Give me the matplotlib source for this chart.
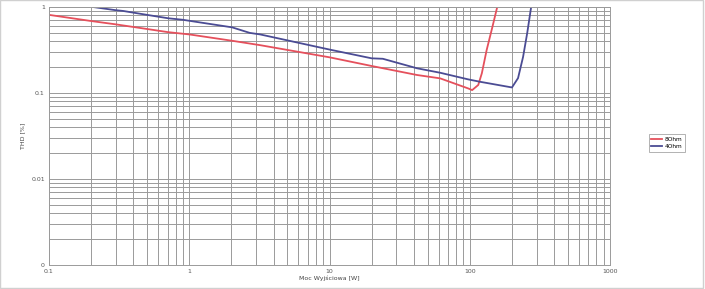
import numpy as np
import matplotlib
matplotlib.use('Agg')
import matplotlib.pyplot as plt
from matplotlib.patches import Rectangle

# odczyt z wykresu: moc [W] / THD [%]
p_8ohm = [0.1, 0.196, 0.296, 0.5, 0.706, 1.0, 2.02, 3.2, 10, 20, 42, 61.5, 97.5, 104, 115, 122, 132, 145, 157]
thd_8ohm = [0.81, 0.69, 0.63, 0.555, 0.51, 0.48, 0.405, 0.36, 0.26, 0.206, 0.162, 0.148, 0.113, 0.108, 0.124, 0.17, 0.316, 0.585, 1.0]

p_4ohm = [0.206, 0.296, 0.337, 0.5, 0.706, 0.9, 2.02, 2.7, 3.2, 10, 20, 24, 42, 61.5, 97.5, 118.6, 200, 221, 240, 257, 274]
thd_4ohm = [1.0, 0.92, 0.90, 0.81, 0.74, 0.71, 0.58, 0.50, 0.48, 0.32, 0.253, 0.25, 0.194, 0.172, 0.144, 0.135, 0.116, 0.149, 0.263, 0.50, 1.0]

x_ticks = [0.1, 1, 10, 100, 1000]
x_labels = ['0.1', '1', '10', '100', '1000']
y_ticks = [0.001, 0.01, 0.1, 1]
y_labels = ['0', '0.01', '0.1', '1']

fig = plt.figure(figsize=(7.05, 2.89), dpi=100)
ax = fig.add_axes([49 / 705, 1 - 265 / 289, (610 - 49) / 705, (265 - 7) / 289])

ax.plot(p_8ohm, thd_8ohm, color='#e5505c', lw=1.3, label='8Ohm')
ax.plot(p_4ohm, thd_4ohm, color='#4b4c94', lw=1.3, label='4Ohm')

ax.set_xscale('log')
ax.set_yscale('log')
ax.set_xlim(0.1, 1000)
ax.set_ylim(0.001, 1)

ax.grid(True, which='both', color='#9a9a9a', lw=0.7)
ax.set_axisbelow(True)
for s in ax.spines.values():
    s.set_color('#9a9a9a')
    s.set_linewidth(0.7)

ax.set_xticks(x_ticks)
ax.set_xticklabels(x_labels)
ax.set_yticks(y_ticks)
ax.set_yticklabels(y_labels)
ax.minorticks_on()
ax.tick_params(which='both', length=0, labelsize=4.5, colors='#555555', pad=3)
ax.tick_params(axis='y', which='minor', labelleft=False)
ax.tick_params(axis='x', which='minor', labelbottom=False)

ax.set_xlabel('Moc Wyjściowa [W]', fontsize=4.5, color='#444444', labelpad=1)
ax.set_ylabel('THD [%]', fontsize=4.5, color='#444444', labelpad=4)

leg = ax.legend(loc='center left', bbox_to_anchor=(1.064, 0.473), fontsize=4.2,
                handlelength=1.8, handletextpad=0.5, borderpad=0.45,
                labelspacing=0.3, frameon=True, fancybox=False)
leg.get_frame().set_edgecolor('#909090')
leg.get_frame().set_linewidth(0.6)

fig.patches.append(Rectangle((0.0, 0.003), 0.997, 0.997, transform=fig.transFigure,
                             fill=False, edgecolor='#d0d0d0', lw=1.0))

fig.savefig('out.png', dpi=100)
